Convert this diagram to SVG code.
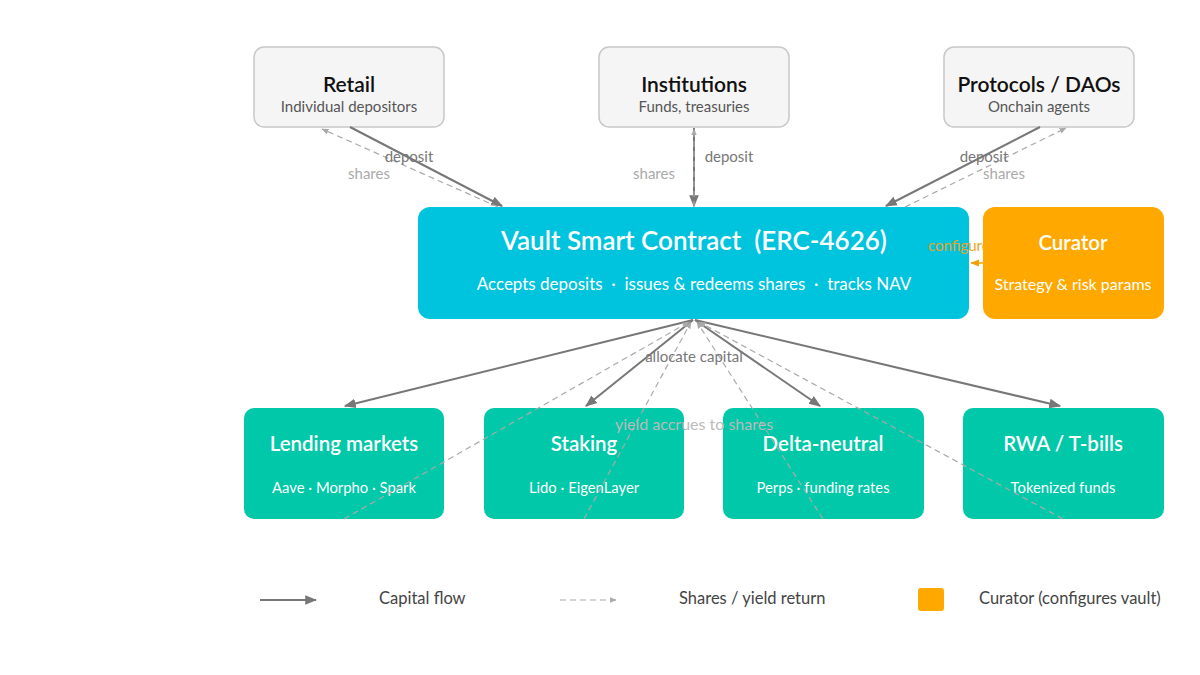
<svg xmlns="http://www.w3.org/2000/svg" width="1200" height="675" viewBox="0 0 1200 675">
<defs>
<marker id="ah" viewBox="0 0 10 10" refX="9" refY="5" markerWidth="6" markerHeight="6" orient="auto-start-reverse"><path d="M0,1 L10,5 L0,9 z" fill="#777"/></marker>
<marker id="ahl" viewBox="0 0 10 10" refX="9" refY="5" markerWidth="6" markerHeight="6" orient="auto-start-reverse"><path d="M0,1 L10,5 L0,9 z" fill="#aaa"/></marker>
<marker id="aho" viewBox="0 0 10 10" refX="9" refY="5" markerWidth="6" markerHeight="6" orient="auto"><path d="M0,1 L10,5 L0,9 z" fill="#F5A000"/></marker>
<style>
text{font-family:"Lato","Noto Sans",sans-serif}
.src rect{fill:#f5f5f5;stroke:#c8c8c8;stroke-width:1.5}
.t1{font-size:21px;font-weight:600;fill:#111;text-anchor:middle}
.t2{font-size:15px;fill:#555;text-anchor:middle}
.vt{font-size:26px;font-weight:600;fill:#fff;text-anchor:middle}
.vs{font-size:17px;fill:#fff;text-anchor:middle}
.st{font-size:20.5px;font-weight:600;fill:#fff;text-anchor:middle}
.ss{font-size:14.8px;fill:#fff;text-anchor:middle}
.cs{font-size:16px;fill:#fff;text-anchor:middle}
.solid{stroke:#777;stroke-width:2;fill:none;marker-end:url(#ah)}
.dash{stroke:#aaa;stroke-width:1.2;stroke-dasharray:6 4;fill:none;marker-end:url(#ahl)}
.lab{font-size:15px;fill:#777}
.labl{font-size:15px;fill:#aaa}
.leg{font-size:16.5px;fill:#444}
</style>
</defs>
<rect width="1200" height="675" fill="#fff"/>

<g id="retail" class="src">
<rect x="254" y="47" width="190" height="80" rx="10"/>
<text class="t1" x="349" y="92">Retail</text>
<text class="t2" x="349" y="112">Individual depositors</text>
</g>
<g id="institutions" class="src">
<rect x="599" y="47" width="190" height="80" rx="10"/>
<text class="t1" x="694" y="92">Institutions</text>
<text class="t2" x="694" y="112">Funds, treasuries</text>
</g>
<g id="protocols" class="src">
<rect x="944" y="47" width="190" height="80" rx="10"/>
<text class="t1" x="1039" y="92">Protocols / DAOs</text>
<text class="t2" x="1039" y="112">Onchain agents</text>
</g>

<g id="vault">
<rect x="418" y="207" width="551" height="112" rx="12" fill="#00C4DE"/>
<text class="vt" x="694" y="250" xml:space="preserve">Vault Smart Contract  (ERC-4626)</text>
<text class="vs" x="694" y="290" xml:space="preserve">Accepts deposits  ·  issues &amp; redeems shares  ·  tracks NAV</text>
</g>

<g id="lending">
<rect x="244" y="408" width="200" height="111" rx="10" fill="#00C8A8"/>
<text class="st" x="344" y="451">Lending markets</text>
<text class="ss" x="344" y="493">Aave · Morpho · Spark</text>
</g>
<g id="staking">
<rect x="484" y="408" width="200" height="111" rx="10" fill="#00C8A8"/>
<text class="st" x="584" y="451">Staking</text>
<text class="ss" x="584" y="493">Lido · EigenLayer</text>
</g>
<g id="delta">
<rect x="723" y="408" width="201" height="111" rx="10" fill="#00C8A8"/>
<text class="st" x="823" y="451">Delta-neutral</text>
<text class="ss" x="823" y="493">Perps · funding rates</text>
</g>
<g id="rwa">
<rect x="963" y="408" width="201" height="111" rx="10" fill="#00C8A8"/>
<text class="st" x="1063" y="451">RWA / T-bills</text>
<text class="ss" x="1063" y="493">Tokenized funds</text>
</g>

<g id="connectors">
<line class="solid" x1="350" y1="127" x2="502" y2="206"/>
<line class="dash" x1="498" y1="207" x2="322" y2="129"/>
<line class="solid" x1="694" y1="128" x2="694" y2="206"/>
<line class="dash" x1="694" y1="207" x2="694" y2="129"/>
<line class="solid" x1="1040" y1="127" x2="886" y2="206"/>
<line class="dash" x1="905" y1="207" x2="1066" y2="128"/>
<line class="solid" x1="693" y1="320" x2="345" y2="406"/>
<line class="solid" x1="693" y1="320" x2="586" y2="406"/>
<line class="solid" x1="695" y1="320" x2="820" y2="406"/>
<line class="solid" x1="695" y1="320" x2="1060" y2="406"/>
<line class="dash" x1="344" y1="519" x2="689" y2="322"/>
<line class="dash" x1="584" y1="519" x2="691" y2="322"/>
<line class="dash" x1="823" y1="519" x2="697" y2="322"/>
<line class="dash" x1="1063" y1="519" x2="699" y2="322"/>
<line x1="983" y1="263" x2="971" y2="263" stroke="#F5A000" stroke-width="1.5" marker-end="url(#aho)"/>
<text class="lab" x="409" y="162" text-anchor="middle">deposit</text>
<text class="labl" x="369" y="179" text-anchor="middle">shares</text>
<text class="labl" x="654" y="179" text-anchor="middle">shares</text>
<text class="lab" x="729" y="162" text-anchor="middle">deposit</text>
<text class="lab" x="984" y="162" text-anchor="middle">deposit</text>
<text class="labl" x="1004" y="179" text-anchor="middle">shares</text>
<text class="lab" x="694" y="362" text-anchor="middle" font-size="16">allocate capital</text>
<text x="694" y="430" text-anchor="middle" font-size="16" fill="#bbb">yield accrues to shares</text>
<text x="928" y="251" font-size="15" fill="#E5A52A">configure</text>
</g>

<g id="curator">
<rect x="983" y="207" width="181" height="112" rx="12" fill="#FFA800"/>
<text class="st" x="1073" y="250" font-size="22">Curator</text>
<text class="cs" x="1073" y="290">Strategy &amp; risk params</text>
</g>

<g id="legend">
<line class="solid" x1="260" y1="600" x2="316" y2="600"/>
<text class="leg" x="379" y="604">Capital flow</text>
<line class="dash" x1="560" y1="600" x2="616" y2="600"/>
<text class="leg" x="679" y="604">Shares / yield return</text>
<rect x="918" y="588" width="26" height="23" rx="3" fill="#FFA800"/>
<text class="leg" x="979" y="604">Curator (configures vault)</text>
</g>
</svg>
